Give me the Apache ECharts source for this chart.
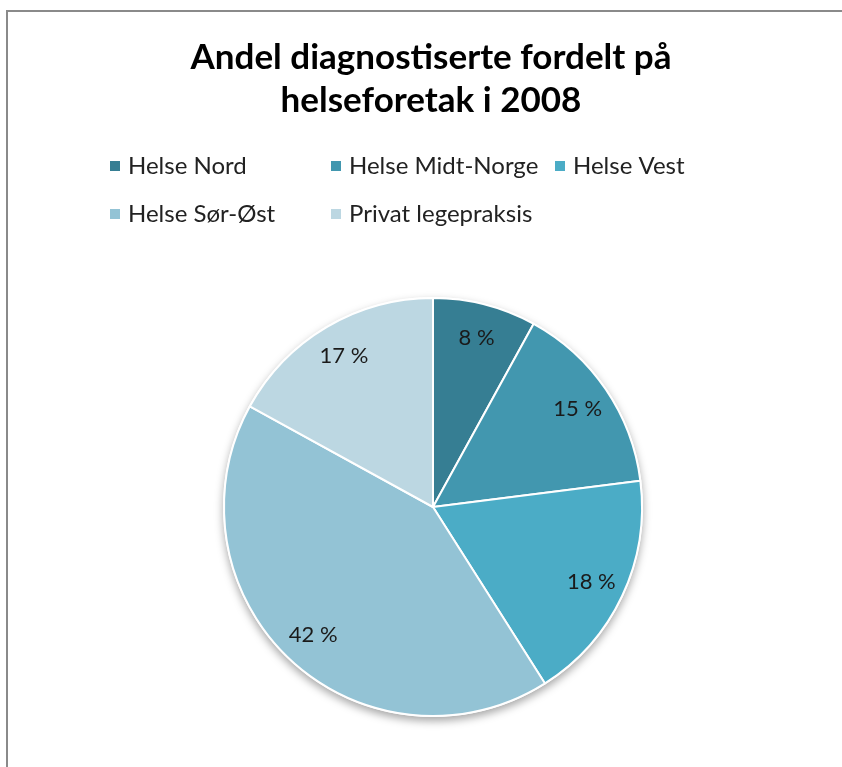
<!DOCTYPE html>
<html>
<head>
<meta charset="utf-8">
<script src="https://cdn.jsdelivr.net/npm/echarts@6/dist/echarts.min.js"></script>
<style>
  html, body { margin: 0; padding: 0; background: #fff; overflow: hidden; width: 842px; height: 767px; }
  #frame { position: absolute; left: 6px; top: 10px; width: 1000px; height: 1000px;
           border-left: 2px solid #8a8a8a; border-top: 2px solid #8a8a8a; }
  #main { position: absolute; left: 0; top: 0; width: 842px; height: 767px; }
</style>
</head>
<body>
<div id="frame"></div>
<div id="main"></div>
<script>
// data
var regions = ['Helse Nord', 'Helse Midt-Norge', 'Helse Vest', 'Helse Sør-Øst', 'Privat legepraksis'];
var shares = [8, 15, 18, 42, 17];
var colors = ['#367e93', '#4297af', '#4bacc6', '#93c3d5', '#bcd7e2'];

// legend slots (Excel lays them out in columns)
var legendPos = [[108, 154], [329, 154], [553, 154], [108, 202], [329, 202]];

var chart = echarts.init(document.getElementById('main'));

var pieData = regions.map(function (name, i) {
	return { name: name, value: shares[i], itemStyle: { color: colors[i] } };
});

var option = {
	animation: false,
	title: {
		text: 'Andel diagnostiserte fordelt på\nhelseforetak i 2008',
		left: 426,
		textAlign: 'center',
		top: 31,
		textStyle: {
			fontFamily: 'Lato',
			fontWeight: 'bold',
			fontSize: 35,
			lineHeight: 43,
			color: '#000'
		}
	},
	legend: regions.map(function (name, i) {
		return {
			data: [name],
			left: legendPos[i][0],
			top: legendPos[i][1],
			padding: 0,
			itemWidth: 12,
			itemHeight: 12,
			icon: 'rect',
			textStyle: { fontFamily: 'Lato', fontSize: 24, color: '#222', padding: [0, 0, 0, 2] },
			selectedMode: false
		};
	}),
	series: [{
		// soft shadow under the whole pie
		type: 'pie',
		center: [433, 507],
		radius: [0, 210],
		silent: true,
		z: 1,
		label: { show: false },
		labelLine: { show: false },
		data: [{ value: 1, name: '', itemStyle: { color: '#fff', shadowBlur: 8, shadowOffsetY: 4, shadowColor: 'rgba(0,0,0,0.35)' } }]
	}, {
		type: 'pie',
		center: [433, 507],
		radius: [0, 209],
		startAngle: 90,
		clockwise: true,
		z: 2,
		label: { show: false },
		labelLine: { show: false },
		itemStyle: { borderColor: '#fff', borderWidth: 2 },
		data: pieData
	}, {
		// transparent ring used only to place the labels near the rim
		type: 'pie',
		center: [433, 507],
		radius: [135, 209],
		startAngle: 90,
		clockwise: true,
		silent: true,
		z: 3,
		label: {
			show: true,
			position: 'inside',
			formatter: '{c} %',
			fontFamily: 'Lato',
			fontSize: 22,
			color: '#1a1a1a'
		},
		labelLine: { show: false },
		itemStyle: { color: 'rgba(0,0,0,0)' },
		data: regions.map(function (name, i) { return { name: name, value: shares[i] }; })
	}]
};

chart.setOption(option);
</script>
</body>
</html>
